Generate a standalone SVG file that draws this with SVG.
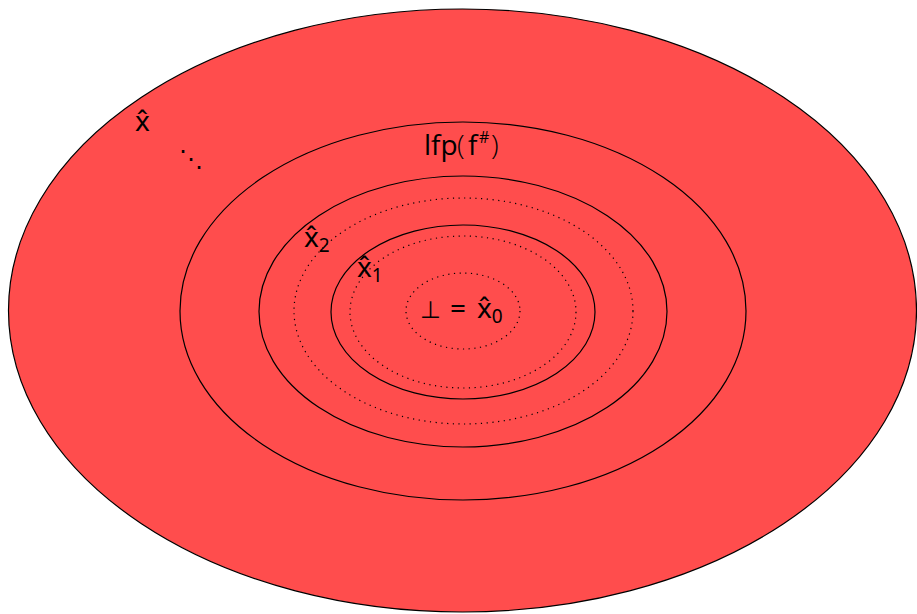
<svg xmlns="http://www.w3.org/2000/svg" width="917" height="614" viewBox="0 0 917 614">
<style>
.solid{fill:none;stroke:#000;stroke-width:1.2}
.dot{fill:none;stroke:#000;stroke-width:1.2;stroke-dasharray:1.2 4.5}
.t{font-family:"Open Sans","Noto Sans","DejaVu Sans",sans-serif;fill:#000}
.m{font-family:"Noto Sans","Open Sans","DejaVu Sans",sans-serif;fill:#000}
</style>
<rect width="917" height="614" fill="#fff"/>
<g id="outer">
<ellipse cx="462.5" cy="310.5" rx="454" ry="301.5" fill="#ff4d4d" stroke="#000" stroke-width="1.2"/>
<text class="m" x="135" y="131" font-size="28">x̂</text>
<text class="t" x="179" y="167" font-size="24" font-family="DejaVu Sans">⋱</text>
</g>
<g id="lfp">
<ellipse class="solid" cx="463" cy="311" rx="283" ry="189"/>
<text class="t" x="424" y="155" font-size="28">lfp<tspan x="457" font-weight="300">(</tspan><tspan x="468">f</tspan><tspan x="479" font-size="16" dy="-12">#</tspan><tspan x="491" dy="12" font-weight="300">)</tspan></text>
</g>
<g id="ring2">
<ellipse class="solid" cx="463" cy="311.5" rx="204" ry="135.5"/>
<ellipse class="dot" cx="463.5" cy="311" rx="169.5" ry="113"/>
<text class="m" x="304" y="247" font-size="28">x̂<tspan font-size="19" dy="5">2</tspan></text>
</g>
<g id="ring1">
<ellipse class="solid" cx="463" cy="312" rx="132" ry="87"/>
<ellipse class="dot" cx="463" cy="312" rx="113" ry="76"/>
<text class="m" x="357" y="277" font-size="28">x̂<tspan font-size="19" dy="5">1</tspan></text>
</g>
<g id="bottom">
<ellipse class="dot" cx="463" cy="311" rx="57" ry="38"/>
<text class="m" x="420" y="318" font-size="28"><tspan font-family="DejaVu Sans" font-size="24">⊥</tspan><tspan x="450">=</tspan><tspan x="477">x̂</tspan><tspan font-size="19" dy="5">0</tspan></text>
</g>
<g id="connectors"/>
</svg>
